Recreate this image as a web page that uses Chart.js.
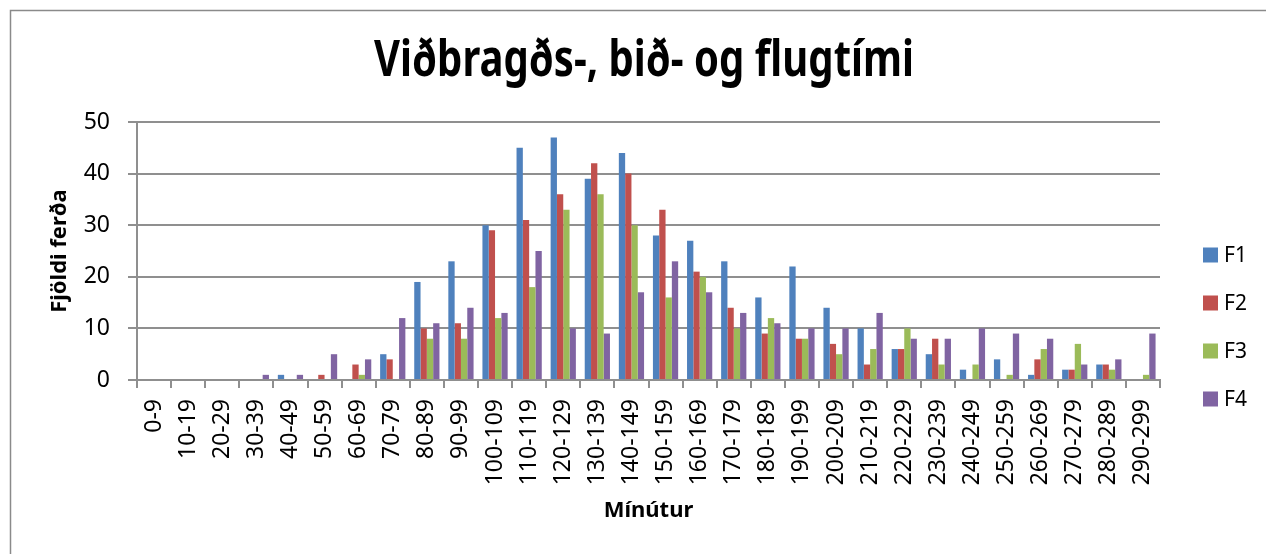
<!DOCTYPE html>
<html>
<head>
<meta charset="utf-8">
<script src="https://cdn.jsdelivr.net/npm/chart.js@4.4.1/dist/chart.umd.min.js"></script>
<style>
  html, body { margin: 0; padding: 0; background: #ffffff; }
  #wrap { width: 1266px; height: 554px; position: relative; }
</style>
</head>
<body>
<div id="wrap"><canvas id="c" width="1266" height="554"></canvas></div>
<script>
// ---- data ----
const categories = ['0-9','10-19','20-29','30-39','40-49','50-59','60-69','70-79','80-89','90-99',
  '100-109','110-119','120-129','130-139','140-149','150-159','160-169','170-179','180-189','190-199',
  '200-209','210-219','220-229','230-239','240-249','250-259','260-269','270-279','280-289','290-299'];
const seriesNames = ['F1', 'F2', 'F3', 'F4'];
const f1 = [0,0,0,0,1,0,0,5,19,23,30,45,47,39,44,28,27,23,16,22,14,10,6,5,2,4,1,2,3,0];
const f2 = [0,0,0,0,0,1,3,4,10,11,29,31,36,42,40,33,21,14,9,8,7,3,6,8,0,0,4,2,3,0];
const f3 = [0,0,0,0,0,0,1,0,8,8,12,18,33,36,30,16,20,10,12,8,5,6,10,3,3,1,6,7,2,1];
const f4 = [0,0,0,1,1,5,4,12,11,14,13,25,10,9,17,23,17,13,11,10,10,13,8,8,10,9,8,3,4,9];
const seriesColors = ['#4F81BD', '#C0504D', '#9BBB59', '#8064A2'];
const yTicks = [0, 10, 20, 30, 40, 50];
const chartTitle = 'Viðbragðs-, bið- og flugtími';
const xTitle = 'Mínútur';
const yTitle = 'Fjöldi ferða';

// ---- styles ----
const BASE_FONT = "'Noto Sans', 'DejaVu Sans', sans-serif";
const GRID = '#8f8f8f';

const frame = {
  id: 'frame',
  beforeDraw(chart) {
    const ctx = chart.ctx;
    ctx.save();
    ctx.fillStyle = '#ffffff';
    ctx.fillRect(0, 0, chart.width, chart.height);
    ctx.strokeStyle = '#8a8a8a';
    ctx.lineWidth = 1.5;
    ctx.strokeRect(10.5, 10.5, chart.width + 50, chart.height + 50);
    ctx.restore();
  }
};

// chart title, drawn in a condensed way (Calibri-like proportions)
const condensedTitle = {
  id: 'condensedTitle',
  afterDraw(chart) {
    const ctx = chart.ctx;
    const cx = 644, cy = 62, sx = 0.8;
    ctx.save();
    ctx.font = "bold 50px " + BASE_FONT;
    ctx.fillStyle = '#000000';
    ctx.textAlign = 'center';
    ctx.textBaseline = 'middle';
    ctx.translate(cx, cy);
    ctx.scale(sx, 1);
    ctx.fillText(chartTitle, 0, 0);
    ctx.restore();
  }
};

const sideLegend = {
  id: 'sideLegend',
  afterDraw(chart) {
    const ctx = chart.ctx;
    const boxX = 1203, firstY = 255, step = 48, box = 15;
    ctx.save();
    ctx.font = "21px " + BASE_FONT;
    ctx.textBaseline = 'middle';
    ctx.textAlign = 'left';
    chart.data.datasets.forEach((ds, i) => {
      const cy = firstY + i * step;
      ctx.fillStyle = ds.backgroundColor;
      ctx.fillRect(boxX, cy - box / 2, box, box);
      ctx.fillStyle = '#000000';
      ctx.fillText(ds.label, boxX + box + 6, cy + 1);
    });
    ctx.restore();
  }
};

const datasets = [f1, f2, f3, f4].map((vals, i) => ({
  label: seriesNames[i],
  data: vals,
  backgroundColor: seriesColors[i],
  borderWidth: 0,
  categoryPercentage: 0.74,
  barPercentage: 1.0
}));

new Chart(document.getElementById('c'), {
  type: 'bar',
  data: { labels: categories, datasets },
  plugins: [frame, condensedTitle, sideLegend],
  options: {
    responsive: false,
    animation: false,
    devicePixelRatio: 1,
    layout: { padding: { left: 0, right: 106, top: 122, bottom: 0 } },
    plugins: {
      legend: { display: false },
      tooltip: { enabled: false },
      title: { display: false }
    },
    scales: {
      x: {
        grid: { drawOnChartArea: false, drawTicks: true, tickLength: 8, color: GRID, lineWidth: 2 },
        border: { display: true, color: GRID, width: 2 },
        ticks: {
          autoSkip: false, maxRotation: 90, minRotation: 90, padding: 11,
          color: '#000000', font: { family: BASE_FONT, size: 23 }
        },
        title: {
          display: true, text: xTitle, color: '#000000',
          font: { family: BASE_FONT, size: 22, weight: 'bold', lineHeight: 1.2 },
          padding: { top: 0, bottom: 30 }
        },
        afterFit(scale) { scale.height = 174; }
      },
      y: {
        min: 0, max: 50,
        afterBuildTicks(scale) { scale.ticks = yTicks.map(v => ({ value: v })); },
        grid: { color: GRID, lineWidth: 2, drawTicks: true, tickLength: 9 },
        border: { display: true, color: GRID, width: 2 },
        ticks: { padding: 18, color: '#000000', font: { family: BASE_FONT, size: 23 } },
        title: {
          display: true, text: yTitle, color: '#000000',
          font: { family: BASE_FONT, size: 22, weight: 'bold', lineHeight: 1.2 },
          padding: { top: 47, bottom: 0 }
        },
        afterFit(scale) { scale.width = 137; }
      }
    }
  }
});
</script>
</body>
</html>
